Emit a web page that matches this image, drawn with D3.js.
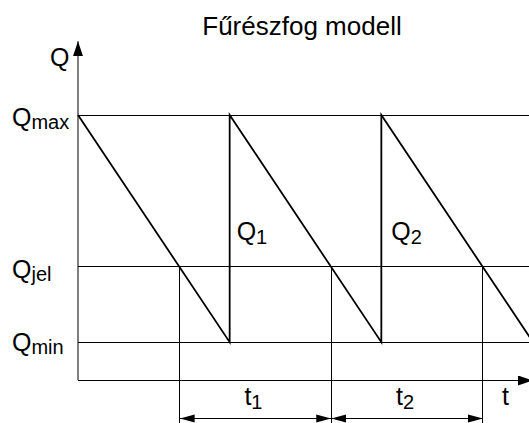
<!DOCTYPE html>
<html lang="hu">
<head>
<meta charset="UTF-8">
<title>Fűrészfog modell</title>
<script src="https://cdn.jsdelivr.net/npm/d3@7"></script>
<style>
    body { margin: 0; background: #fff; }
    .lbl { font-family: "Liberation Sans", Arial, sans-serif; fill: #000; }
    .vonal { stroke: #000; stroke-width: 1; fill: none; }
    .fog { stroke: #000; stroke-width: 1.8; fill: none; }
</style>
</head>
<body>
<div id="grafico"></div>
<script>
// adatok
var sawT = [0, 1, 1, 2, 2, 3];          // időpontok (rendelési ciklusok)
var sawQ = [7, 1, 7, 1, 7, 1];          // készletszint
var levelNames = ["max", "jel", "min"];
var levelValues = [7, 3, 1];
var cycleNames = ["1", "2"];
var title = "Fűrészfog modell";

var w = 529, h = 423;

var xScale = d3.scaleLinear().domain([0, 3]).range([78, 533]);
var yScale = d3.scaleLinear().domain([0, 7]).range([380, 115]);

var qMax = levelValues[0], qJel = levelValues[1], qMin = levelValues[2];
// rendelési pontok: ahol a csökkenő szakasz eléri a Qjel szintet
var tJel = d3.range(0, 3).map(function(i){
    return i + (qMax - qJel) / (qMax - qMin);
});

var svg = d3.select("#grafico").append("svg")
    .attr("width", w).attr("height", h);

var defs = svg.append("defs");
function arrowMarker(id, path){
    defs.append("marker").attr("id", id)
        .attr("viewBox", "0 0 15 10").attr("refX", 15).attr("refY", 5)
        .attr("markerUnits", "userSpaceOnUse")
        .attr("markerWidth", 15).attr("markerHeight", 10)
        .attr("orient", "auto-start-reverse")
        .append("path").attr("d", path).attr("fill", "#000");
}
arrowMarker("nyil", "M0,1 L15,5 L0,9 Z");
arrowMarker("tengely", "M0,0 L15,5 L0,10 Z");

var x0 = xScale(0), y0 = yScale(0);

// szintvonalak
svg.selectAll(".szint").data(levelValues).enter().append("line")
    .attr("class", "vonal szint")
    .attr("x1", x0).attr("x2", w)
    .attr("y1", function(d){ return Math.round(yScale(d)) + 0.5; })
    .attr("y2", function(d){ return Math.round(yScale(d)) + 0.5; });

// tengelyek
svg.append("line").attr("class", "vonal")
    .attr("x1", x0).attr("y1", y0).attr("x2", x0).attr("y2", yScale(8.95))
    .attr("marker-end", "url(#tengely)");
svg.append("line").attr("class", "vonal")
    .attr("x1", x0).attr("y1", y0 + 0.5).attr("x2", 533).attr("y2", y0 + 0.5)
    .attr("marker-end", "url(#tengely)");

// fűrészfog
var line = d3.line()
    .x(function(d, i){ return xScale(sawT[i]); })
    .y(function(d){ return yScale(d); });
svg.append("path").attr("class", "fog").attr("d", line(sawQ));

// méretvonalak
svg.selectAll(".meret").data(tJel).enter().append("line")
    .attr("class", "vonal meret")
    .attr("x1", function(d){ return Math.round(xScale(d)) + 0.5; })
    .attr("x2", function(d){ return Math.round(xScale(d)) + 0.5; })
    .attr("y1", yScale(qJel)).attr("y2", h);

var dimY = 418.5;
cycleNames.forEach(function(n, i){
    var a = xScale(tJel[i]) + 0.5, b = xScale(tJel[i + 1]) + 0.5;
    svg.append("line").attr("class", "vonal")
        .attr("x1", a).attr("x2", b).attr("y1", dimY).attr("y2", dimY)
        .attr("marker-start", "url(#nyil)").attr("marker-end", "url(#nyil)");
    var t = svg.append("text").attr("class", "lbl")
        .attr("x", (a + b) / 2 - 2).attr("y", 405)
        .attr("text-anchor", "middle").style("font-size", "25px");
    t.append("tspan").text("t");
    t.append("tspan").attr("dy", 4).style("font-size", "20px").text(n);

    // Q1, Q2 címkék a feltöltés mellett
    var q = svg.append("text").attr("class", "lbl")
        .attr("x", xScale(i + 1) + (i === 0 ? 7 : 10)).attr("y", yScale(qJel) - 26)
        .style("font-size", "25px");
    q.append("tspan").text("Q");
    q.append("tspan").attr("dy", 4).style("font-size", "20px").text(n);
});

// szint-címkék
var labelDy = [11, 12, 9];
levelNames.forEach(function(n, i){
    var t = svg.append("text").attr("class", "lbl")
        .attr("x", 12).attr("y", yScale(levelValues[i]) + labelDy[i])
        .style("font-size", "25px");
    t.append("tspan").text("Q");
    t.append("tspan").attr("dy", 3).style("font-size", "20px").text(n);
});

// tengelyfeliratok
svg.append("text").attr("class", "lbl").attr("x", 50).attr("y", 66)
    .style("font-size", "25px").text("Q");
svg.append("text").attr("class", "lbl").attr("x", 502).attr("y", 405)
    .style("font-size", "25px").text("t");

// cím
svg.append("text").attr("class", "lbl").attr("x", 302).attr("y", 35)
    .attr("text-anchor", "middle").style("font-size", "26px").text(title);
</script>
</body>
</html>
